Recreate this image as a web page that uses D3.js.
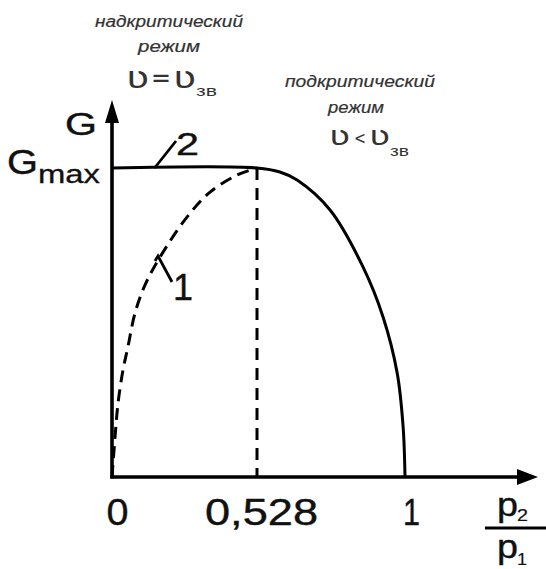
<html>
<head>
<meta charset="utf-8">
<title>G vs p2/p1</title>
<style>
  body { margin: 0; background: #fff; }
  text { font-family: "Liberation Sans", Arial, sans-serif; }
</style>
</head>
<body>
<div id="chart"></div>
<script src="https://d3js.org/d3.v7.min.js"></script>
<script>
// pressure ratio ticks (schematic axis: critical ratio sits at its own spot)
var ratioTicks = [0, 0.528, 1];
var tickLabels = ["0", "0,528", "1"];

// curve 1 (dashed) - flow rate for the supercritical branch
var curve1X = [0, 0.011, 0.022, 0.040, 0.058, 0.084, 0.120, 0.175, 0.273, 0.357, 0.455, 0.528];
var curve1G = [0, 0.129, 0.239, 0.346, 0.421, 0.531, 0.621, 0.712, 0.841, 0.922, 0.977, 1];

// curve 2 (solid) - G = Gmax up to critical ratio, then drops to 0
var curve2X = [0, 0.528, 0.601, 0.656, 0.761, 0.866, 0.930, 0.975, 0.994, 1];
var curve2G = [1, 1, 0.987, 0.961, 0.864, 0.680, 0.518, 0.337, 0.162, 0];

var W = 546, H = 569;
var svg = d3.select("#chart").append("svg").attr("width", W).attr("height", H);

var x = d3.scaleLinear().domain([0, 0.528, 1]).range([112, 257, 405]);
var y = d3.scaleLinear().domain([0, 1]).range([477, 168]);

function pts(xs, gs) { return xs.map(function(v, i) { return [v, gs[i]]; }); }
var line = d3.line()
    .x(function(d) { return x(d[0]); })
    .y(function(d) { return y(d[1]); })
    .curve(d3.curveCatmullRom.alpha(0.5));

// axes with arrows
var xEnd = 538, yTop = 100;
svg.append("line").attr("x1", x(0) - 1.5).attr("y1", y(0)).attr("x2", xEnd - 10).attr("y2", y(0))
    .attr("stroke", "#000").attr("stroke-width", 3.6);
svg.append("line").attr("x1", x(0)).attr("y1", y(0) + 1.5).attr("x2", x(0)).attr("y2", yTop + 10)
    .attr("stroke", "#000").attr("stroke-width", 3.6);
svg.append("path").attr("d", "M" + xEnd + "," + y(0) + " L" + (xEnd - 21) + "," + (y(0) - 8) + " L" + (xEnd - 21) + "," + (y(0) + 8) + " Z")
    .attr("fill", "#000");
svg.append("path").attr("d", "M" + x(0) + "," + yTop + " L" + (x(0) - 7) + "," + (yTop + 23) + " L" + (x(0) + 7) + "," + (yTop + 23) + " Z")
    .attr("fill", "#000");

// critical ratio dashed vertical
svg.append("line").attr("x1", x(0.528)).attr("x2", x(0.528)).attr("y1", y(1)).attr("y2", y(0))
    .attr("stroke", "#000").attr("stroke-width", 3).attr("stroke-dasharray", "12,8");

// curves
svg.append("path").datum(pts(curve1X, curve1G)).attr("d", line)
    .attr("fill", "none").attr("stroke", "#000").attr("stroke-width", 3).attr("stroke-dasharray", "12,7");
svg.append("path").datum(pts(curve2X, curve2G)).attr("d", line)
    .attr("fill", "none").attr("stroke", "#000").attr("stroke-width", 3);

// tick labels
var xAxis = d3.axisBottom(x).tickValues(ratioTicks).tickSize(0)
    .tickFormat(function(d, i) { return tickLabels[i]; });
var gx = svg.append("g").attr("transform", "translate(0," + y(0) + ")").call(xAxis);
gx.select(".domain").remove();
var tickW = [22, 113, 17], tickDx = [5, 4, 6];
gx.selectAll("text")
    .attr("y", 0).attr("dy", 48)
    .attr("dx", function(d, i) { return tickDx[i]; })
    .attr("fill", "#111")
    .attr("stroke", "#111").attr("stroke-width", 0.4)
    .style("font-size", "37px")
    .attr("textLength", function(d, i) { return tickW[i]; })
    .attr("lengthAdjust", "spacingAndGlyphs");

// helper for plain text
function label(t, px, py, size, w, opts) {
  opts = opts || {};
  var el = svg.append("text").attr("x", px).attr("y", py).text(t)
      .style("font-size", size + "px")
      .attr("fill", opts.fill || "#111")
      .attr("text-anchor", opts.anchor || "start");
  if (opts.italic) el.style("font-style", "italic");
  if (opts.family) el.style("font-family", opts.family);
  if (opts.bold) el.attr("stroke", opts.fill || "#111").attr("stroke-width", opts.bold);
  if (w) el.attr("textLength", w).attr("lengthAdjust", "spacingAndGlyphs");
  return el;
}

// axis names
label("G", 65, 135, 32, 32, {bold: 0.4});
label("G", 7, 174, 35, 31, {bold: 0.4});
label("max", 38, 183, 25, 62, {bold: 0.3});

// p2 / p1 fraction
label("p", 497, 516, 34, 21, {bold: 0.4});
label("2", 517, 521, 17, 11, {bold: 0.2});
svg.append("line").attr("x1", 485).attr("x2", 546).attr("y1", 528).attr("y2", 528)
    .attr("stroke", "#000").attr("stroke-width", 2.8);
label("p", 497, 558, 34, 21, {bold: 0.4});
label("1", 517, 565, 17, 10, {bold: 0.2});

// curve numbers with leaders
svg.append("line").attr("x1", x(0.155)).attr("y1", y(1)).attr("x2", 176).attr("y2", 141)
    .attr("stroke", "#000").attr("stroke-width", 2.8);
label("2", 176, 155, 32, 23, {bold: 0.4});
svg.append("path").attr("d", "M155,261 L158,256 L172,282")
    .attr("fill", "none").attr("stroke", "#000").attr("stroke-width", 2.8);
label("1", 173, 300, 36, 20, {bold: 0.4});

// regime captions
var gray = "#333";
var sym = "'DejaVu Sans', sans-serif";
label("надкритический", 95, 27, 16, 148, {italic: true, fill: gray, bold: 0.2});
label("режим", 138, 52, 16, 62, {italic: true, fill: gray, bold: 0.2});
label("ʋ", 126, 88, 30, 23, {fill: gray, family: sym});
label("=", 151, 87, 26, 20, {fill: gray, family: sym});
label("ʋ", 173, 88, 30, 23, {fill: gray, family: sym});
label("зв", 196, 96, 15, 21, {fill: gray});

label("подкритический", 285, 87, 16, 150, {italic: true, fill: gray, bold: 0.2});
label("режим", 328, 113, 16, 56, {italic: true, fill: gray, bold: 0.2});
label("ʋ", 329, 145, 27, 21, {fill: gray, family: sym});
label("<", 354, 144, 18, 12, {fill: gray, family: sym});
label("ʋ", 369, 145, 27, 21, {fill: gray, family: sym});
label("зв", 390, 156, 14, 19, {fill: gray});
</script>
</body>
</html>
